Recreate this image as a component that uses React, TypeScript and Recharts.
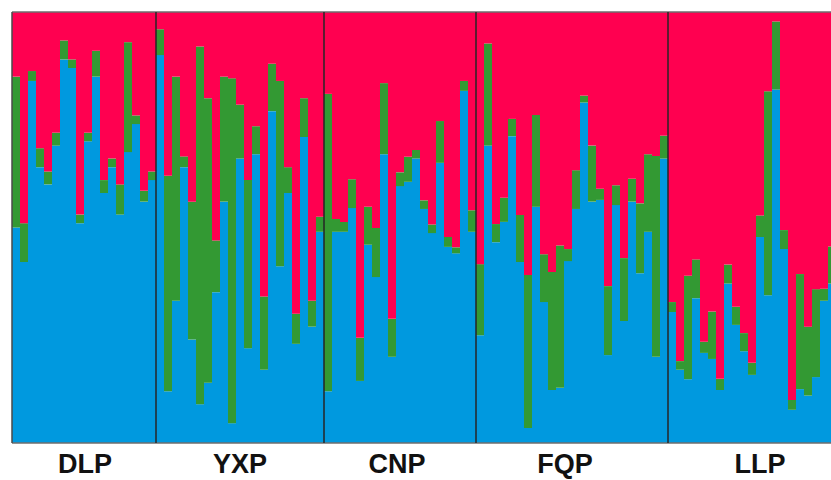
import {
  BarChart,
  Bar,
  XAxis,
  YAxis,
  ReferenceArea,
  ReferenceLine,
} from "recharts";

// population names, in plot order
const groups = ["DLP", "YXP", "CNP", "FQP", "LLP"];

// membership coefficients per individual: cluster 1 (blue) and cluster 2 (green);
// cluster 3 (red) takes the rest of each bar
const dlpBlue = [0.5, 0.42, 0.84, 0.64, 0.6, 0.69, 0.89, 0.87, 0.51, 0.7, 0.85, 0.58, 0.64, 0.53, 0.675, 0.74, 0.56, 0.61];
const dlpGreen = [0.35, 0.09, 0.023, 0.044, 0.03, 0.03, 0.044, 0.02, 0.02, 0.02, 0.06, 0.03, 0.02, 0.07, 0.255, 0.02, 0.025, 0.02];

const yxpBlue = [0.9, 0.12, 0.33, 0.64, 0.24, 0.09, 0.14, 0.35, 0.56, 0.046, 0.66, 0.22, 0.67, 0.17, 0.77, 0.41, 0.58, 0.23, 0.71, 0.27, 0.49];
const yxpGreen = [0.06, 0.5, 0.52, 0.025, 0.32, 0.83, 0.66, 0.12, 0.29, 0.8, 0.125, 0.39, 0.065, 0.17, 0.11, 0.43, 0.06, 0.07, 0.09, 0.06, 0.035];

const cnpBlue = [0.12, 0.49, 0.49, 0.545, 0.144, 0.46, 0.385, 0.67, 0.2, 0.596, 0.606, 0.66, 0.543, 0.487, 0.65, 0.455, 0.44, 0.817, 0.49];
const cnpGreen = [0.69, 0.03, 0.023, 0.067, 0.1, 0.088, 0.114, 0.165, 0.088, 0.032, 0.058, 0.02, 0.02, 0.02, 0.097, 0.023, 0.014, 0.023, 0.05];

const fqpBlue = [0.25, 0.69, 0.466, 0.513, 0.712, 0.42, 0.035, 0.548, 0.327, 0.123, 0.128, 0.422, 0.543, 0.79, 0.56, 0.564, 0.204, 0.552, 0.283, 0.56, 0.394, 0.49, 0.2, 0.66];
const fqpGreen = [0.165, 0.237, 0.042, 0.056, 0.04, 0.109, 0.355, 0.213, 0.111, 0.274, 0.33, 0.028, 0.09, 0.016, 0.13, 0.026, 0.16, 0.046, 0.146, 0.053, 0.162, 0.18, 0.466, 0.053];

const llpBlue = [0.304, 0.17, 0.148, 0.336, 0.209, 0.195, 0.123, 0.37, 0.274, 0.213, 0.158, 0.478, 0.343, 0.82, 0.45, 0.077, 0.125, 0.11, 0.153, 0.33, 0.37];
const llpGreen = [0.023, 0.02, 0.24, 0.09, 0.026, 0.11, 0.026, 0.044, 0.042, 0.042, 0.028, 0.05, 0.473, 0.158, 0.044, 0.023, 0.267, 0.16, 0.204, 0.028, 0.086];

const blueByGroup = [dlpBlue, yxpBlue, cnpBlue, fqpBlue, llpBlue];
const greenByGroup = [dlpGreen, yxpGreen, cnpGreen, fqpGreen, llpGreen];

// small nudges so the labels sit where the original put them
const labelShift = [1, 0, -3, -7, 8];

const BLUE = "#0099DF";
const GREEN = "#339933";
const RED = "#FF0050";
const FRAME = "#6e6e6e";

interface Row {
  id: string;
  k1: number;
  k2: number;
  k3: number;
}

const rows: Row[] = [];
const firstIds: string[] = [];
const lastIds: string[] = [];
groups.forEach((g, gi) => {
  const blue = blueByGroup[gi];
  const green = greenByGroup[gi];
  blue.forEach((b, i) => {
    const id = `${g}-${i + 1}`;
    if (i === 0) firstIds.push(id);
    if (i === blue.length - 1) lastIds.push(id);
    rows.push({ id, k1: b, k2: green[i], k3: Math.max(0, 1 - b - green[i]) });
  });
});

export default function App() {
  return (
    <div
      style={{
        position: "absolute",
        left: 0,
        top: 0,
        width: 831,
        height: 480,
        overflow: "hidden",
        background: "#fff",
      }}
    >
      <BarChart
        width={840}
        height={480}
        data={rows}
        margin={{ top: 12, left: 12, right: 4, bottom: 37 }}
        barCategoryGap={0}
        barGap={0}
      >
        <XAxis dataKey="id" hide />
        <YAxis hide domain={[0, 1]} />
        <Bar dataKey="k1" stackId="a" fill={BLUE} isAnimationActive={false} />
        <Bar dataKey="k2" stackId="a" fill={GREEN} isAnimationActive={false} />
        <Bar dataKey="k3" stackId="a" fill={RED} isAnimationActive={false} />
        {groups.map((g, gi) => (
          <ReferenceArea
            key={g}
            x1={firstIds[gi]}
            x2={lastIds[gi]}
            y1={0}
            y2={1}
            fill="none"
            stroke="none"
            label={{
              value: g,
              position: "bottom",
              offset: 11,
              dx: labelShift[gi],
              fontSize: 27,
              fontWeight: "bold",
              fontFamily: "'Liberation Sans', Arial, sans-serif",
              fill: "#111",
            }}
          />
        ))}
        {/* outer frame */}
        <ReferenceLine y={1} stroke={FRAME} strokeWidth={1.5} />
        <ReferenceLine y={0} stroke={FRAME} strokeWidth={1.5} />
        <ReferenceLine
          x={firstIds[0]}
          position="start"
          stroke="#4a4a4a"
          strokeWidth={1.5}
        />
        {/* population separators */}
        {firstIds.slice(1).map((id) => (
          <ReferenceLine
            key={id}
            x={id}
            position="start"
            stroke="#262626"
            strokeWidth={1.5}
          />
        ))}
      </BarChart>
    </div>
  );
}
